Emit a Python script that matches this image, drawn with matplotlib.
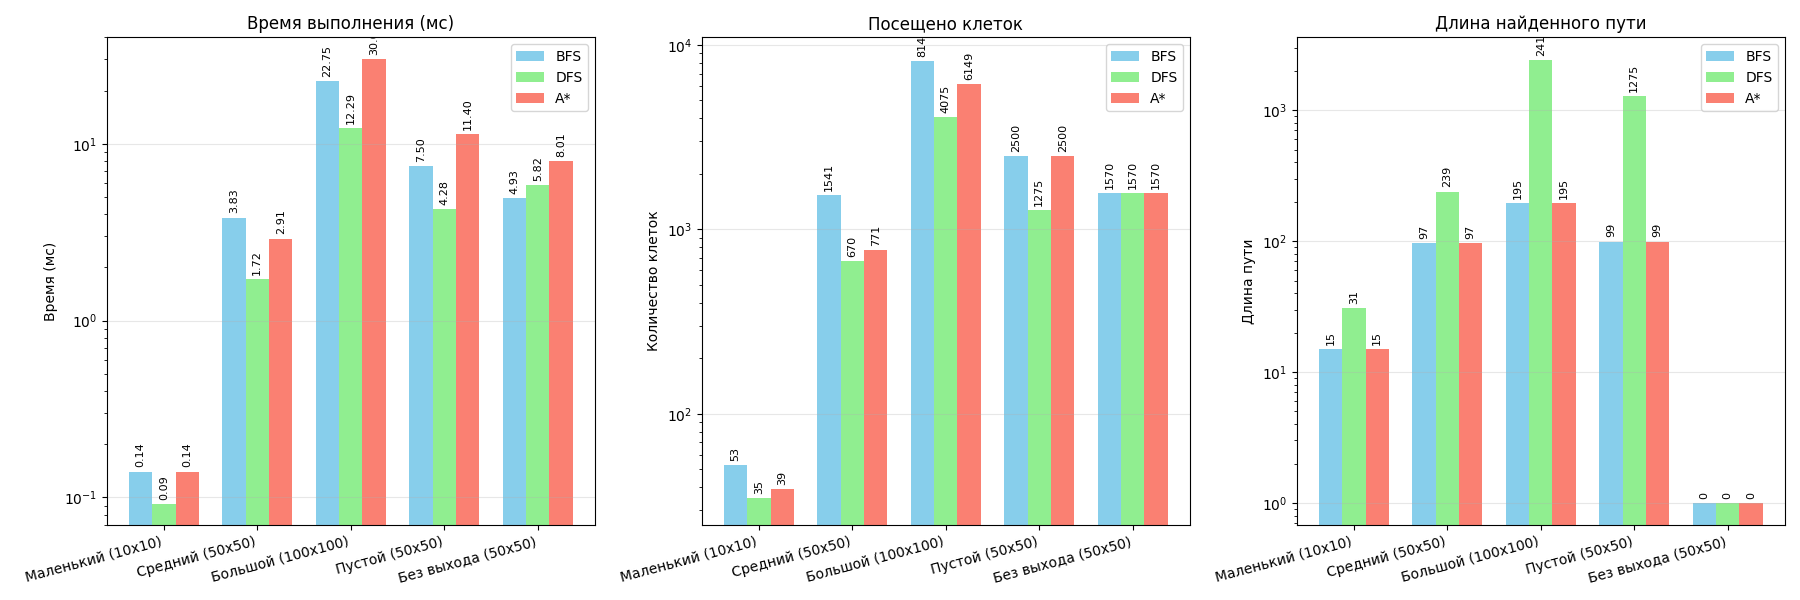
import numpy as np
import matplotlib
matplotlib.use('Agg')
from matplotlib import pyplot as plt

mazes = ['Маленький (10x10)', 'Средний (50x50)', 'Большой (100x100)',
         'Пустой (50x50)', 'Без выхода (50x50)']
algorithms = ['BFS', 'DFS', 'A*']
colors = ['skyblue', 'lightgreen', 'salmon']

time_ms = {
    'BFS': [0.14, 3.83, 22.75, 7.50, 4.93],
    'DFS': [0.092, 1.72, 12.29, 4.28, 5.82],
    'A*': [0.14, 2.91, 30.01, 11.40, 8.01],
}
visited = {
    'BFS': [53, 1541, 8145, 2500, 1570],
    'DFS': [35, 670, 4075, 1275, 1570],
    'A*': [39, 771, 6149, 2500, 1570],
}
path_len = {
    'BFS': [15, 97, 195, 99, 0],
    'DFS': [31, 239, 2415, 1275, 0],
    'A*': [15, 97, 195, 99, 0],
}

panels = [
    ('Время выполнения (мс)', 'Время (мс)', time_ms, '{:.2f}', (0.07, 40)),
    ('Посещено клеток', 'Количество клеток', visited, '{:d}', (25, 11000)),
    ('Длина найденного пути', 'Длина пути', path_len, '{:d}', (0.68, 3600)),
]

fig, axes = plt.subplots(1, 3, figsize=(18, 6), dpi=100)
x = np.arange(len(mazes))
width = 0.25
for ax, (title, ylabel, data, fmt, ylim) in zip(axes, panels):
    for i, alg in enumerate(algorithms):
        vals = data[alg]
        heights = [max(v, 1) if fmt == '{:d}' else v for v in vals]
        pos = x + (i - 1) * width
        ax.bar(pos, heights, width, label=alg, color=colors[i])
        for p, h, v in zip(pos, heights, vals):
            ax.annotate(fmt.format(v), xy=(p, h), xytext=(0, 3),
                        textcoords='offset points', ha='center', va='bottom',
                        rotation=90, fontsize=8, annotation_clip=False,
                        clip_on=True)
    ax.set_yscale('log')
    ax.set_ylim(*ylim)
    ax.set_title(title, fontsize=12)
    ax.set_ylabel(ylabel)
    ax.set_xticks(x)
    ax.set_xticklabels(mazes, rotation=15, ha='right')
    ax.legend(loc='upper right')
    ax.grid(True, axis='y', alpha=0.3)

plt.tight_layout()
plt.savefig('out.png')
